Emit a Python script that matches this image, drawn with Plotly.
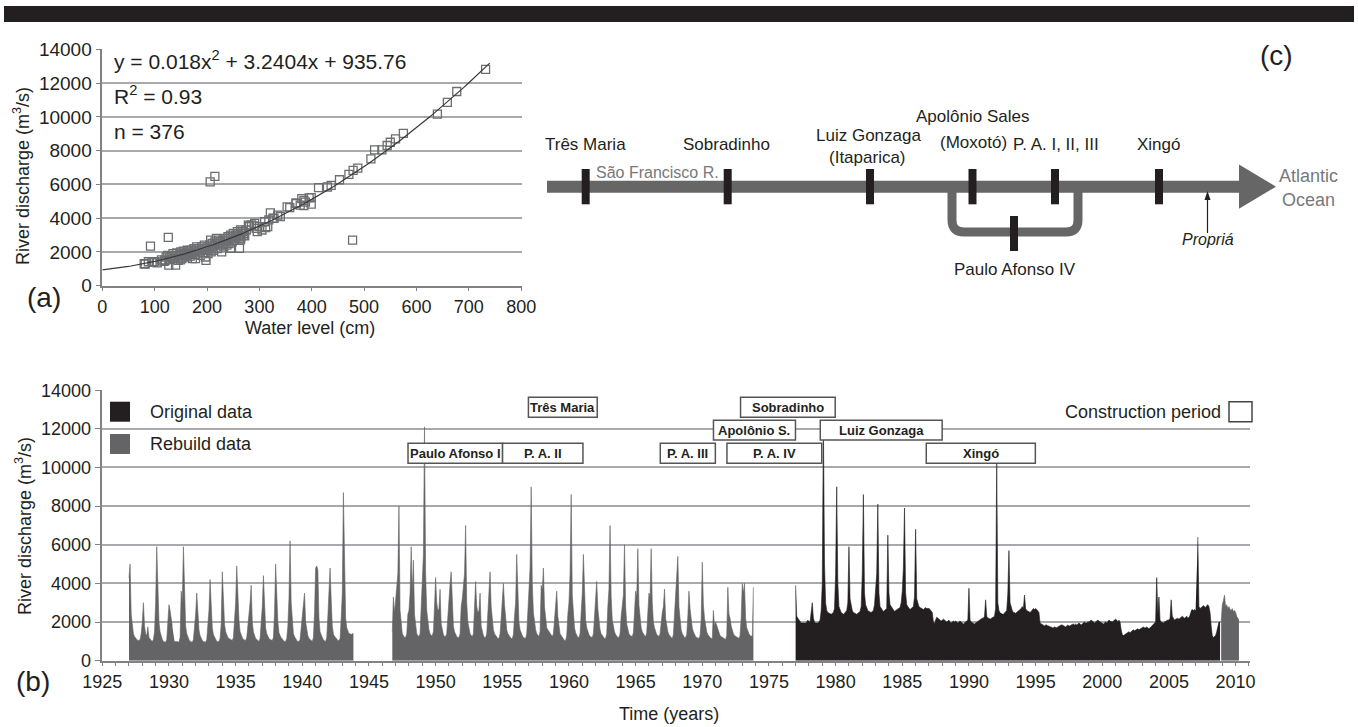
import plotly.graph_objects as go

W, H = 1358, 727


def px(x):
    return x / W


def py(y):
    return 1 - y / H


TEXT = "#231f20"
GRAY = "#646466"
BLACK = "#231f20"
GRID = "#a7a9ac"
AXIS = "#808285"
FONT = "Liberation Sans, Arial, sans-serif"

# ---------------- panel (a): rating curve ----------------
level_cm = [80, 82, 88, 92, 95, 97, 100, 105, 113, 118, 126, 127, 140, 149,
            120, 122, 125, 128, 130, 132, 135, 137, 140, 142, 145, 145, 148, 150, 150, 152,
            155, 155, 158, 160, 160, 162, 165, 165, 168, 170, 170, 172, 175, 175, 177, 178,
            180, 180, 182, 185, 185, 187, 190, 190, 192, 195, 195, 197, 198, 200, 200, 202,
            205, 205, 207, 208, 210, 210, 212, 215, 215, 218, 220, 220, 222, 225, 225, 228,
            230, 230, 232, 235, 235, 238, 240, 240, 242, 245, 245, 248, 250, 250, 252, 255,
            255, 258, 260, 262, 265, 265, 268, 270, 272,
            206, 215, 478,
            245, 262, 264, 264, 270, 275, 279, 280, 281, 285, 290, 291, 294, 296, 300, 305,
            310, 312, 316, 318, 321, 326, 328, 335, 340, 353, 358, 370, 370, 378, 381, 385,
            385, 388, 395, 399, 399, 413, 430, 437, 453, 471, 479, 488, 513, 520, 534, 544,
            550, 560, 575, 640, 659, 677, 732]
discharge_a = [1300, 1280, 1420, 2350, 1420, 1400, 1430, 1350, 1530, 1450, 2860, 1220, 1220, 1530,
               1500, 1700, 1800, 1650, 1550, 1750, 1900, 1600, 1800, 1950, 1700, 1500, 1850, 2000, 1750, 1600,
               1900, 2050, 1800, 1950, 1700, 2100, 1850, 2000, 1750, 2100, 1900, 1600, 2000, 2200, 1850, 1600,
               2100, 2300, 1950, 2200, 2050, 1800, 2300, 2100, 1950, 2200, 2400, 1700, 1500, 2300, 2100, 1900,
               2400, 2200, 2700, 2000, 2500, 2300, 2100, 2400, 2600, 2800, 2500, 2200, 2700, 2400, 2600, 2000,
               2700, 2500, 2300, 2800, 2600, 2400, 2900, 2700, 2500, 2800, 3000, 2600, 2900, 3100, 2700, 3000,
               2800, 3200, 3000, 2800, 3100, 2900, 3200, 3000, 2950,
               6150, 6480, 2700,
               2220, 2210, 3300, 2710, 3100, 3300, 3590, 3550, 3500, 3600, 3550, 3690, 3400, 3200, 3500, 3300,
               3790, 3450, 3500, 3900, 4310, 4000, 3990, 4180, 4100, 4670, 4630, 4870, 4900, 4770, 5160, 5050,
               4750, 4950, 5200, 5220, 4830, 5810, 5850, 5950, 6280, 6600, 6830, 6970, 7520, 8050, 8050, 8310,
               8500, 8700, 9030, 10170, 10860, 11510, 12820]

# fitted polynomial shown on the chart: y = a x^2 + b x + c
fit_a, fit_b, fit_c = 0.018, 3.2404, 935.76
fit_x = list(range(0, 741, 5))

# ---------------- panel (b): monthly discharge ----------------
# rebuild data, Jan 1927 - Nov 1943 (None = missing month)
rebuild_1927 = [
    4300, 5000, 2400, 1700, 1400, 1250, 1150, 1100, 1050, 1050, 1100, 1400,
    2000, 3000, 1800, 1400, 1300, 1750, 1200, 1100, 1050, 1000, 1100, 1500,
    3000, 5900, 3900, 2000, 1500, 1250, 1100, 1000, 950, 950, 1100, 2000,
    2900, 2600, 2100, 1800, None, 1000, 1000, 1000, 980, 950, 1200, 3600,
    3000, 5900, 3200, 1800, 1400, 1200, 1100, 1000, 950, 950, 1100, 1700,
    2400, 3500, 2300, 1600, 1300, 1150, 1050, 1000, 950, 950, 1100, 1800,
    2600, 4200, 2500, 1700, 1350, 1200, 1100, 1000, 1000, 1000, 1150, 1900,
    4600, 3000, 1900, 1500, 1300, 1200, 1150, 1100, 1050, 1050, 1200, 2000,
    3000, 4900, 3300, 2100, 1500, 1300, 1200, 1100, 1050, 1050, 1200, 1800,
    2200, 3000, 3900, 2000, 1500, 1300, 1150, 1100, 1050, 1000, 1150, 1900,
    2800, 4400, 2600, 1700, 1400, 1250, 1150, 1100, 1050, 1050, 1200, 2500,
    5000, 3200, 2000, 1500, None, 1200, 1100, 1050, 1000, 1000, 1150, 1800,
    3200, 6200, 3000, 1800, 1400, 1250, 1100, 1050, 1000, 1000, 1100, 1700,
    2200, 2800, 3500, 2000, 1500, 1300, 1150, 1100, 1050, 1000, 1200, 2500,
    4800, 4900, 4700, 2200, 1500, 1300, 1200, 1100, None, 1000, 1200, 2300,
    3500, 4800, 3200, 1800, 1400, None, 1200, 1100, 1050, 1050, 1150, 2200,
    3500, 8700, 4000, 2200, 1700, 1500, 1400, 1400, 1350, 1400, 1400,
]
rebuild_1927_start = 1927.0

# rebuild data, Oct 1946 - Nov 1973
rebuild_1946 = [
    1500, 3300, 2500,
    3000, 3800, 4500, 8000, 2600, 1700, 1400, 1300, 1200, 1200, 1400, 2400,
    2600, 3500, 5900, 3500, 5200, 2400, 1700, 1400, 1300, 1250, 1400, 2600,
    3800, 5500, 12100, 4500, 2600, 1900, 1600, 1400, 1300, 1300, 1500, 2800,
    4300, 3000, 2600, 2700, 3700, 1900, 1500, 1350, 1250, 1250, 1400, 2400,
    3000, 4000, 4600, 2600, 1800, 1500, 1350, 1250, 1200, 1200, 1400, 2800,
    3200, 3800, 4500, 7000, 3000, 2000, 1600, 1400, 1300, 1250, 1400, 2500,
    4100, 2800, 2500, 2600, 3500, 1800, 1500, 1300, 1200, 1200, 1400, 2600,
    3000, 4600, 2800, 1900, 1600, 1400, 1300, 1200, 1150, 1150, 1400, 2200,
    2900, 4000, 2900, 2000, 1600, 1400, 1300, 1200, 1150, 1150, 1350, 2300,
    3000, 5500, 3000, 2000, 1600, 1400, 1300, 1200, 1150, 1150, 1400, 2600,
    3200, 4800, 9000, 4000, 2500, 1900, 1600, 1400, 1300, 1250, 1500, 3900,
    3700, 4800, 2800, 2000, 1700, 1600, 1500, 1400, 1300, 1250, 1400, 2200,
    2500, 3600, 2300, 1700, 1400, 1300, 1200, 1100, 1050, 1050, 1300, 2400,
    3000, 4500, 8600, 3400, 2200, 1700, 1450, 1300, 1200, 1200, 1400, 2500,
    3500, 5500, 3200, 2100, 1700, 1500, 1350, 1250, 1200, 1200, 1400, 2300,
    2900, 4100, 2700, 1900, 1600, 1400, 1300, 1200, 1150, 1150, 1400, 2800,
    3700, 7000, 3300, 2100, 1700, 1500, 1350, 1250, 1200, 1200, 1400, 2300,
    2800, 3400, 6000, 2800, 1900, 1600, 1400, 1300, 1250, 1250, 1450, 2600,
    3600, 3300, 5800, 2900, 2000, 1700, 1500, 1350, 1300, 1250, 1450, 2500,
    3500, 3300, 5800, 3000, 2000, 1700, 1500, 1350, 1300, 1250, 1400, 2200,
    2500, 2800, 3700, 2200, 1700, 1500, 1350, 1250, 1200, 1150, 1350, 2400,
    3600, 4000, 5400, 2800, 1900, 1600, 1400, 1300, 1200, 1200, 1350, 2300,
    3600, 2700, 2100, 1700, 1500, 1350, 1250, 1200, 1150, 1150, 1300, 2100,
    5100, 2900, 2200, 1700, 1500, 1350, 1250, 1200, 1150, 1150, 2600, 1800,
    2000, 1800, 1600, 1400, 1300, 1250, 1200, 1150, 1100, 1100, 1300, 3800,
    2400, 2200, 1800, 1500, 1400, 1300, 1250, 1200, 1150, 1150, 1300, 2200,
    4000, 3500, 4000, 2200, 1700, 1500, 1400, 1300, 1250, 1250, 3800,
]
rebuild_1946_start = 1946.75

# original data, Jan 1977 - Nov 2008
original_1977 = [
    3900, 2300, 2200, 2100, 2000, 1950, 1950, 1950, 1950, 1950, 2000, 2100,
    None, 2000, 2500, 3000, 2200, 2000, 1950, 1950, 1950, 2000, 2100, 2600,
    4000, 12400, 5000, 3000, 2600, 2500, 2450, 2400, 2400, 2450, 2500, 2700,
    4500, 9000, 4000, 2800, 2600, 2500, 2450, 2400, 2450, 2500, 2600, 3000,
    5900, 3200, 2800, 2600, 2500, 2450, 2400, 2400, 2450, 2500, 2550, 2800,
    4500, 8600, 3500, 2900, 2700, 2600, 2550, 2500, 2500, 2550, 2600, 2900,
    3500, 4500, 8100, 3500, 2800, 2700, 2600, 2550, 2600, 2650, 2700, 6500,
    3500, 2900, 2800, 2700, 2600, 2550, 2600, 2650, 2700, 2700, 2750, 3000,
    3600, 4800, 7900, 3500, 2900, 2800, 2700, 2650, 2700, 2750, 2800, 3300,
    6800, 3200, 2900, 2800, 2750, 2700, 2700, 2650, 2700, 2750, 2700, 2700,
    2700, 2650, 2600, 2500, 2000, 1900, 2100, 2250, 2200, 2150, 2100, 2050,
    2100, 2150, 2100, 2050, 2000, 2050, 2100, 2000, 1950, 2000, 2050, 2000,
    2050, 2000, 1950, 2000, 2050, 2000, 1950, 1900, 1950, 2000, 2100, 2100,
    3750, 2100, 2000, 1950, 1950, 1900, 1950, 2000, 2000, 2050, 2100, 2150,
    2200, 2200, 2300, 3150, 2300, 2200, 2200, 2150, 2200, 2250, 2250, 2300,
    2700, 10300, 3000, 2600, 2500, None, None, 2400, 2450, 2500, 2600, 3500,
    5700, 3000, 2700, 2600, 2500, 2500, 2450, 2500, 2550, 2600, 2650, 2700,
    2800, 2700, 3400, 2700, 2600, 2550, 2500, 2500, 2550, 2600, 2700, 2650,
    2700, 2650, 2600, 2500, 1950, 1900, 1850, 1800, 1800, 1850, 1850, 1800,
    1800, 1750, 1750, 1700, 1700, 1750, 1700, 1700, 1750, 1800, 1800, 1850,
    1850, 1800, 1800, 1750, 1800, 1850, 1800, 1800, 1850, 1900, 1900, 1850,
    1900, 1850, 1900, 1950, 1900, 1850, 1900, 1950, 2000, 1950, 1950, 2000,
    2000, 2050, 2100, 2050, 2000, 1950, 2000, 2050, 2100, 2050, 2000, 1950,
    1950, 1900, 1950, 2000, 1950, 2000, 2100, 2050, 2000, 2000, 2050, 2100,
    2150, 2100, 2000, 2100, 2000, 1600, 1350, 1300, 1350, 1400, 1450, 1500,
    1500, 1450, 1500, 1550, 1600, 1550, 1600, 1650, 1650, 1600, 1650, 1700,
    1700, 1750, 1700, 1700, 1750, 1700, 1650, 1700, 1750, 1800, 1850, 1900,
    2000, 4300, 2400, 3300, 2100, 2000, 1950, 1950, 2000, 2050, 2100, 2100,
    2100, 2200, 3150, 2300, 2200, 2100, 2150, 2200, 2200, 2150, 2200, 2300,
    2300, 2250, 2200, 2250, 2300, 2200, 2250, None, 2600, 2650, 2600, 2650,
    2600, None, 6400, 2800, 2700, 2750, 2800, 2850, 2800, 2750, 2850, 2900,
    2800, 2500, 1800, 1300, 1200, 1250, 1300, 1500, 1800, 2000, 2000,
]
original_1977_start = 1977.0

# rebuild data, Dec 2008 - Apr 2010
rebuild_2008 = [
    2000,
    2900, 3100, 3400, 2800, 2900, 2700, 2800, 2650, 2600, 2700, 2550, 2600,
    2500, 2300, 2200, 2100,
]
rebuild_2008_start = 2008 + 11 / 12

# construction periods (years) and label row (0 top, 1 middle, 2 bottom)
dam_names = ["Três Maria", "Paulo Afonso I", "P. A. II", "P. A. III", "P. A. IV",
             "Apolônio S.", "Sobradinho", "Luiz Gonzaga", "Xingó"]
dam_start = [1956.96, 1947.93, 1955.02, 1966.85, 1971.85, 1970.84, 1972.87, 1978.85, 1986.8]
dam_end = [1962.12, 1955.02, 1961.05, 1970.98, 1978.96, 1976.99, 1979.97, 1987.99, 1994.98]
dam_row = [0, 2, 2, 2, 2, 1, 0, 1, 2]
row_band = [(12600, 13640), (11420, 12450), (10220, 11260)]


def months(start, vals):
    return [start + i / 12 for i in range(len(vals))]


fig = go.Figure()

# panel (a)
fig.add_trace(go.Scatter(
    x=level_cm, y=discharge_a, mode="markers", xaxis="x", yaxis="y",
    marker=dict(symbol="square-open", size=8, color="#6d6e71", line=dict(width=1.3)),
    showlegend=False, hoverinfo="skip"))
fig.add_trace(go.Scatter(
    x=fit_x, y=[fit_a * v * v + fit_b * v + fit_c for v in fit_x], mode="lines",
    xaxis="x", yaxis="y", line=dict(color="#3a3a3a", width=1.2),
    showlegend=False, hoverinfo="skip"))

# panel (b)
for start, vals, col in [(rebuild_1927_start, rebuild_1927, GRAY),
                         (rebuild_1946_start, rebuild_1946, GRAY),
                         (original_1977_start, original_1977, BLACK),
                         (rebuild_2008_start, rebuild_2008, GRAY)]:
    fig.add_trace(go.Scatter(
        x=months(start, vals), y=vals, mode="lines", fill="tozeroy",
        fillcolor=col, line=dict(color=col, width=0.6), connectgaps=False,
        xaxis="x2", yaxis="y2", showlegend=False, hoverinfo="skip"))

shapes = []
ann = []


def A(x, y, text, size=18, xanchor="center", color=TEXT, angle=0, xref="paper", yref="paper"):
    if xref == "paper":
        x = px(x)
    if yref == "paper":
        y = py(y)
    ann.append(dict(x=x, y=y, xref=xref, yref=yref, text=text, xanchor=xanchor,
                    yanchor="middle", textangle=angle, showarrow=False,
                    font=dict(size=size, color=color, family=FONT)))


def R(x0, x1, y0, y1, fill, line_color=None, lw=0, layer="above"):
    shapes.append(dict(type="rect", xref="paper", yref="paper", x0=px(x0), x1=px(x1),
                       y0=py(y1), y1=py(y0), fillcolor=fill, layer=layer,
                       line=dict(width=lw, color=line_color or fill)))


# top black band
R(4, 1354, 6, 22, BLACK)

# construction boxes
for name, s, e, r in zip(dam_names, dam_start, dam_end, dam_row):
    lo, hi = row_band[r]
    shapes.append(dict(type="rect", xref="x2", yref="y2", x0=s, x1=e, y0=lo, y1=hi,
                       fillcolor="white", line=dict(color="#555555", width=1.5), layer="above"))
    A((s + e) / 2, (lo + hi) / 2, "<b>%s</b>" % name, size=13, xref="x2", yref="y2")

# legend of (b)
R(110, 130, 401.7, 421.7, BLACK)
R(110, 130, 434, 454, GRAY)
A(148, 411.7, "Original data", xanchor="left")
A(148, 444, "Rebuild data", xanchor="left")
A(1223, 411.7, "Construction period", xanchor="right")
R(1229, 1252, 401.7, 421.7, "white", "#444444", 1.5)

# panel (a) texts
A(112, 60, "y = 0.018x<sup>2</sup> + 3.2404x + 935.76", size=21, xanchor="left")
A(112, 95, "R<sup>2</sup> = 0.93", size=21, xanchor="left")
A(112, 131, "n = 376", size=21, xanchor="left")
A(21, 176, "River discharge (m<sup>3</sup>/s)", angle=-90)
A(310, 328, "Water level (cm)")
A(44, 297, "(a)", size=28)

# panel (b) texts
A(23, 526, "River discharge (m<sup>3</sup>/s)", angle=-90)
A(669, 714, "Time (years)")
A(33, 681, "(b)", size=28)

# ---------------- panel (c): schematic ----------------
RIV = "#666666"
R(547, 1241, 180.7, 192.7, RIV)
shapes.append(dict(type="path", xref="paper", yref="paper",
                   path="M %f,%f L %f,%f L %f,%f Z" % (px(1239), py(164.6), px(1276), py(186.7),
                                                      px(1239), py(208.8)),
                   fillcolor=RIV, line=dict(width=0)))
loop = "M %f,%f L %f,%f Q %f,%f %f,%f L %f,%f Q %f,%f %f,%f L %f,%f" % (
    px(952), py(188), px(952), py(220),
    px(952), py(232), px(964), py(232),
    px(1066), py(232),
    px(1078), py(232), px(1078), py(220),
    px(1078), py(188))
shapes.append(dict(type="path", xref="paper", yref="paper", path=loop,
                   line=dict(color=RIV, width=9)))
for xc in [585.7, 727.7, 870, 972.5, 1055, 1159]:
    R(xc - 4, xc + 4, 169, 204.3, BLACK)
R(1010, 1018, 216, 251, BLACK)
# Propriá arrow
shapes.append(dict(type="line", xref="paper", yref="paper", x0=px(1207.5), x1=px(1207.5),
                   y0=py(233), y1=py(196), line=dict(color=BLACK, width=1.2)))
shapes.append(dict(type="path", xref="paper", yref="paper",
                   path="M %f,%f L %f,%f L %f,%f Z" % (px(1204.5), py(200), px(1207.5), py(191),
                                                      px(1210.5), py(200)),
                   fillcolor=BLACK, line=dict(width=0)))

c_labels = [("Três Maria", 585.5, 144.3), ("Sobradinho", 726.6, 144.3),
            ("Luiz Gonzaga", 868.8, 135.1), ("(Itaparica)", 868, 157.2),
            ("Apolônio Sales", 972.2, 116.1), ("(Moxotó)", 973, 142.6),
            ("P. A. I, II, III", 1055.6, 144.3), ("Xingó", 1158.6, 144.3),
            ("Paulo Afonso IV", 1014.5, 269.9)]
for t, xc, yc in c_labels:
    A(xc, yc, t, size=17)
A(594, 172.7, "São Francisco R.", size=16, xanchor="left", color="#77787b")
A(1308, 175.5, "Atlantic", size=18, color="#77787b")
A(1308, 200.3, "Ocean", size=18, color="#77787b")
A(1207.7, 239.3, "<i>Propriá</i>", size=16)
A(1276, 55, "(c)", size=28)

axis_common = dict(showline=True, linecolor=AXIS, linewidth=1.5, ticks="outside",
                   tickcolor=AXIS, zeroline=False, automargin=False, tickformat="d")

fig.update_layout(
    template="none",
    width=W, height=H, autosize=False,
    margin=dict(l=0, r=0, t=0, b=0, pad=0),
    paper_bgcolor="white", plot_bgcolor="white",
    font=dict(family=FONT, color=TEXT, size=18),
    showlegend=False,
    xaxis=dict(domain=[px(102.3), px(521.7)], range=[0, 801], dtick=100, tick0=0,
               showgrid=False, ticklen=4, anchor="y", tickfont=dict(size=18, color=TEXT),
               **axis_common),
    yaxis=dict(domain=[py(285.7), py(49.3)], range=[0, 14010], dtick=2000, tick0=0,
               showgrid=True, gridcolor=GRID, gridwidth=1.5, ticklen=5, anchor="x",
               tickfont=dict(size=19, color=TEXT), **axis_common),
    xaxis2=dict(domain=[px(102.3), px(1250)], range=[1925, 2011.08], dtick=5, tick0=1925,
                showgrid=False, ticklen=4, anchor="y2", tickfont=dict(size=18, color=TEXT),
                minor=dict(dtick=1, ticks="outside", ticklen=4, tickcolor=AXIS, showgrid=False),
                **axis_common),
    yaxis2=dict(domain=[py(660.7), py(390)], range=[0, 14010], dtick=2000, tick0=0,
                showgrid=True, gridcolor=GRID, gridwidth=1.5, ticklen=6, anchor="x2",
                tickfont=dict(size=18, color=TEXT), **axis_common),
    shapes=shapes,
    annotations=ann,
)

fig.write_html("out.html")
